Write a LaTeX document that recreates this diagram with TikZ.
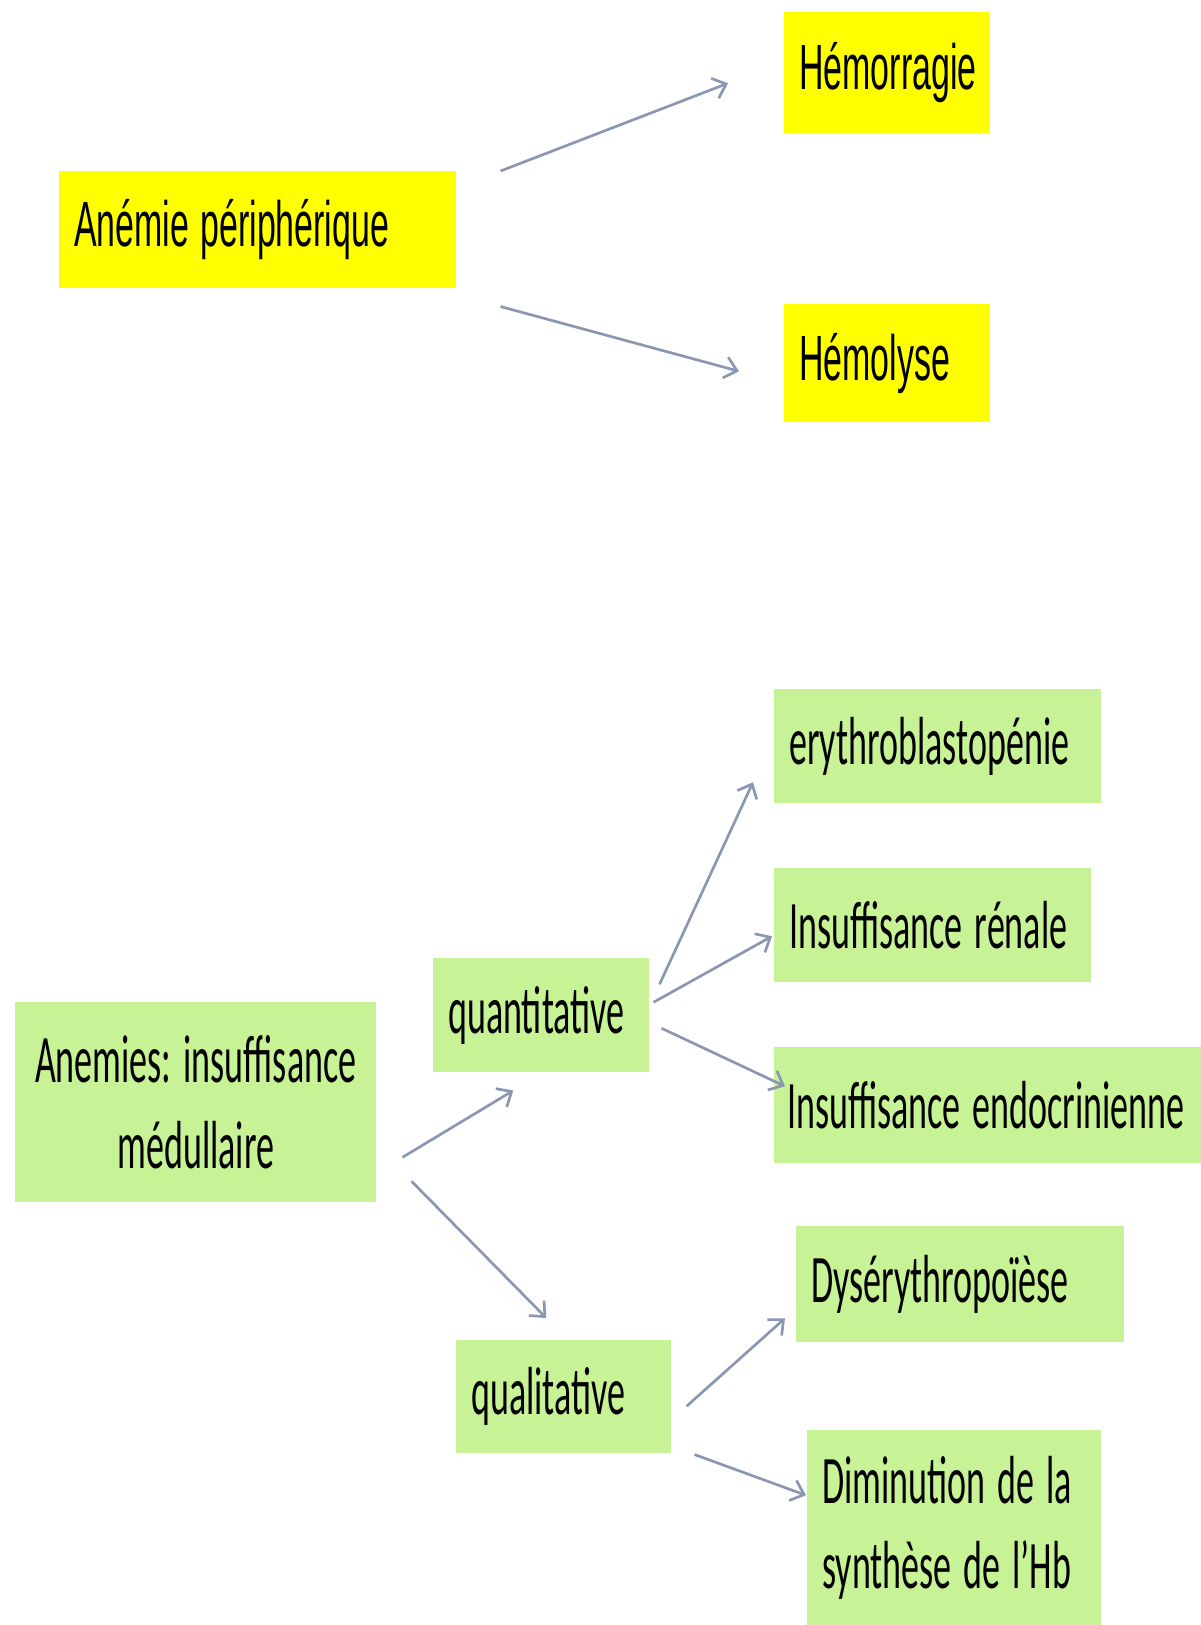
\documentclass[tikz,border=0pt]{standalone}
\usepackage{fontspec}
\usepackage{graphicx}
\newfontfamily\jaunefont{Liberation Sans}
\newfontfamily\vertfont{Carlito}
\newcommand\serre[1]{\scalebox{0.53}[1]{#1}}
\frenchspacing
\usepackage{tikz}
\usetikzlibrary{arrows.meta}
\usetikzlibrary{calc}
\definecolor{jaune}{RGB}{255,255,0}
\definecolor{vert}{RGB}{200,242,150}
\definecolor{flechecol}{RGB}{138,150,178}
\tikzset{
  jaunebox/.style={anchor=north west, fill=jaune, inner xsep=11.25pt, inner ysep=0pt, align=left, font=\jaunefont\fontsize{48}{60}\selectfont},
  vertbox/.style={anchor=north west, fill=vert, inner xsep=11.25pt, inner ysep=0pt, align=left, font=\vertfont\fontsize{51}{64}\selectfont},
  fleche/.style={draw=flechecol, line width=2pt, -{Straight Barb[length=9pt,width=16pt]}}
}
\begin{document}
\begin{tikzpicture}[x=0.75pt,y=0.75pt,yscale=-1,xscale=1]
\useasboundingbox (0,0) rectangle (1201,1625);
% anemie peripherique
\node [jaunebox, text width=275.25pt, minimum height=87.75pt] (periph) at (59,171) {\serre{Anémie périphérique}};
\node [jaunebox, text width=132pt, minimum height=90.75pt] (hemor) at (784,12) {\serre{Hémorragie}};
\node [jaunebox, text width=132pt, minimum height=88.5pt] (hemol) at (784,304) {\serre{Hémolyse}};
\draw [fleche] ($(periph.north east)+(44,0)$) -- ($(hemor.west)+(-56,10.5)$);
\draw [fleche] ($(periph.south east)+(44,18)$) -- ($(hemol.west)+(-45,8)$);
% insuffisance medullaire
\node [vertbox, align=center, text width=248.25pt, minimum height=150pt] (medul) at (15,1002) {\serre{Anemies: insuffisance}\\\serre{médullaire}};
\node [vertbox, text width=139.5pt, minimum height=85.5pt] (quanti) at (433,958) {\serre{quantitative}};
\node [vertbox, text width=138.75pt, minimum height=84.75pt] (quali) at (456,1340) {\serre{qualitative}};
\node [vertbox, text width=222.75pt, minimum height=85.5pt] (erythro) at (774,689) {\serre{erythroblastopénie}};
\node [vertbox, text width=215.25pt, minimum height=85.5pt] (renal) at (774,868) {\serre{Insuffisance rénale}};
\node [vertbox, inner xsep=9.75pt, text width=310pt, minimum height=87pt] (endoc) at (774,1047) {\serre{Insuffisance endocrinienne}};
\node [vertbox, text width=223.5pt, minimum height=87pt] (dyser) at (796,1226) {\serre{Dysérythropoïèse}};
\node [vertbox, text width=198pt, minimum height=146.25pt] (dimin) at (807,1430) {\serre{Diminution de la}\\\serre{synthèse de l’Hb}};
\draw [fleche] ($(medul.east)+(26,55)$) -- ($(quanti.south)+(-28,18)$);
\draw [fleche] ($(medul.east)+(35,79)$) -- ($(quali.north)+(-17.5,-22)$);
\draw [fleche] ($(quanti.east)+(10,-31)$) -- ($(erythro.west)+(-21,36)$);
\draw [fleche] ($(quanti.east)+(4,-13)$) -- ($(renal.west)+(-2,11)$);
\draw [fleche] ($(quanti.east)+(12,13)$) -- ($(endoc.west)+(11,-19)$);
\draw [fleche] ($(quali.east)+(15,9.5)$) -- ($(dyser.west)+(-11,34)$);
\draw [fleche] ($(quali.south east)+(23,1)$) -- ($(dimin.west)+(-1,-32.5)$);
\end{tikzpicture}
\end{document}
